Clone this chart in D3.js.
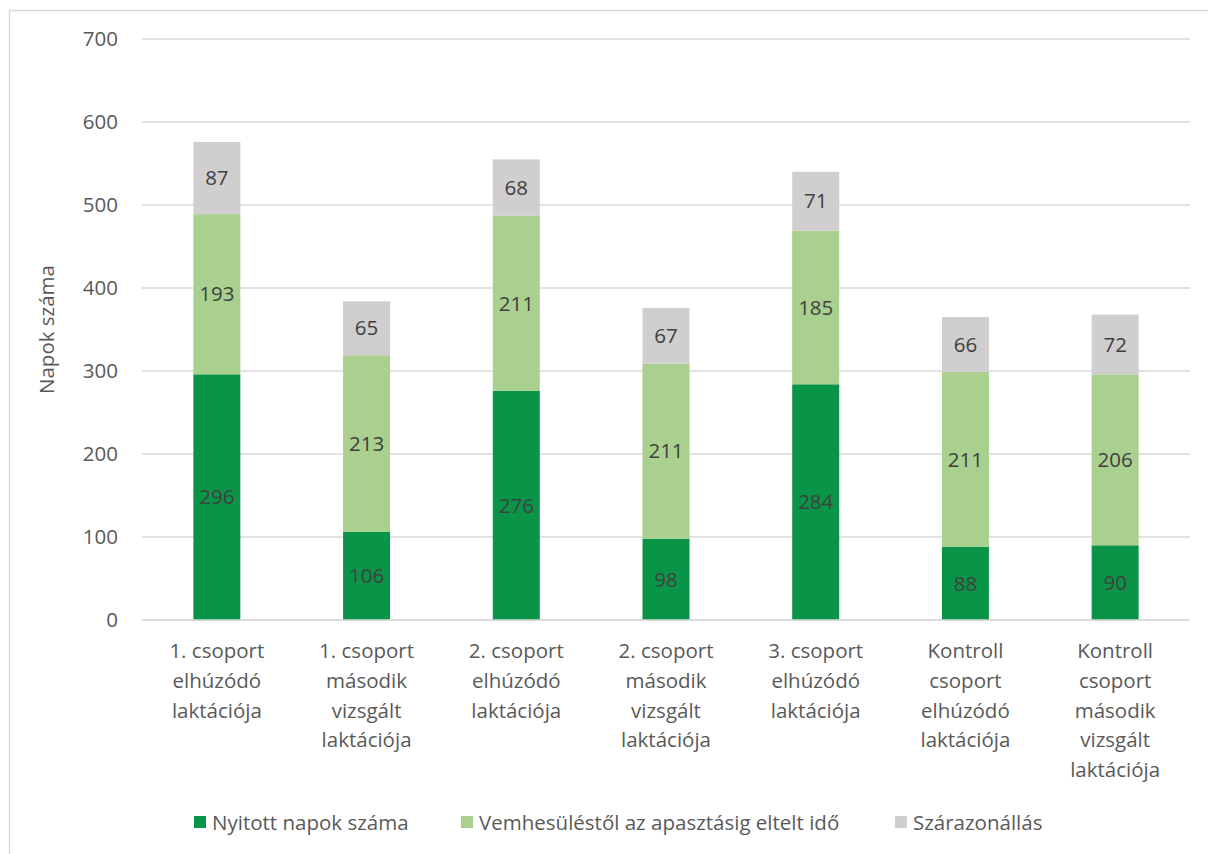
<!DOCTYPE html>
<html>
<head>
<meta charset="utf-8">
<script src="https://cdn.jsdelivr.net/npm/d3@7"></script>
<style>
  html, body { margin: 0; padding: 0; background: #fff; }
  svg { display: block; }
  text { font-family: "Open Sans", "Noto Sans", sans-serif; }
</style>
</head>
<body>
<svg id="chart" width="1208" height="854"></svg>
<script>
// Categories (line breaks as shown under the axis)
const categories = [
  ["1. csoport", "elhúzódó", "laktációja"],
  ["1. csoport", "második", "vizsgált", "laktációja"],
  ["2. csoport", "elhúzódó", "laktációja"],
  ["2. csoport", "második", "vizsgált", "laktációja"],
  ["3. csoport", "elhúzódó", "laktációja"],
  ["Kontroll", "csoport", "elhúzódó", "laktációja"],
  ["Kontroll", "csoport", "második", "vizsgált", "laktációja"]
];
const seriesNames = ["Nyitott napok száma", "Vemhesüléstől az apasztásig eltelt idő", "Szárazonállás"];
const nyitott = [296, 106, 276, 98, 284, 88, 90];
const vemhesules = [193, 213, 211, 211, 185, 211, 206];
const szarazon = [87, 65, 68, 67, 71, 66, 72];
const yTicks = [0, 100, 200, 300, 400, 500, 600, 700];
const colors = ["#0a9447", "#a9d08e", "#d0cece"];

const FS = "20.5px";
const svg = d3.select("#chart");

// outer chart frame
svg.append("rect")
  .attr("x", 9.5).attr("y", 10.5)
  .attr("width", 1220).attr("height", 870)
  .attr("fill", "none").attr("stroke", "#d9d9d9").attr("stroke-width", 1.5);

const plot = { left: 142, right: 1190, top: 39, bottom: 620 };

const x = d3.scaleBand()
  .domain(d3.range(categories.length))
  .range([plot.left, plot.right])
  .paddingInner(0.686).paddingOuter(0.343);

const y = d3.scaleLinear().domain([0, 700]).range([plot.bottom, plot.top]);

// gridlines
svg.append("g").selectAll("line").data(yTicks).join("line")
  .attr("x1", plot.left).attr("x2", plot.right)
  .attr("y1", d => y(d)).attr("y2", d => y(d))
  .attr("stroke", "#d9d9d9").attr("stroke-width", 1.3);

// y tick labels via axis
const yAxis = svg.append("g")
  .attr("transform", `translate(${plot.left - 24},0)`)
  .call(d3.axisLeft(y).tickValues(yTicks).tickSize(0).tickPadding(0));
yAxis.select(".domain").remove();
yAxis.selectAll("text")
  .attr("fill", "#595959").style("font-size", FS)
  .style("font-family", "'Open Sans', 'Noto Sans', sans-serif");

// stacked data
const rows = categories.map((c, i) => ({ i, a: nyitott[i], b: vemhesules[i], c: szarazon[i] }));
const stack = d3.stack().keys(["a", "b", "c"])(rows);

const layers = svg.append("g").selectAll("g").data(stack).join("g")
  .attr("fill", (d, k) => colors[k]);

layers.selectAll("rect").data(d => d).join("rect")
  .attr("x", d => x(d.data.i))
  .attr("width", x.bandwidth())
  .attr("y", d => y(d[1]))
  .attr("height", d => y(d[0]) - y(d[1]));

// value labels centred in each segment
layers.selectAll("text").data(d => d.map(s => ({ s, key: d.key }))).join("text")
  .attr("x", d => x(d.s.data.i) + x.bandwidth() / 2)
  .attr("y", d => y((d.s[0] + d.s[1]) / 2))
  .attr("dy", "0.35em")
  .attr("text-anchor", "middle")
  .attr("fill", "#404040")
  .style("font-size", FS)
  .text(d => d.s.data[d.key]);

// baseline
svg.append("line")
  .attr("x1", plot.left).attr("x2", plot.right)
  .attr("y1", y(0)).attr("y2", y(0))
  .attr("stroke", "#d9d9d9").attr("stroke-width", 1.5);

// category labels
const catG = svg.append("g");
categories.forEach((lines, i) => {
  const t = catG.append("text")
    .attr("x", x(i) + x.bandwidth() / 2)
    .attr("y", 658)
    .attr("text-anchor", "middle")
    .attr("fill", "#595959")
    .style("font-size", FS);
  lines.forEach((ln, j) => {
    t.append("tspan")
      .attr("x", x(i) + x.bandwidth() / 2)
      .attr("dy", j === 0 ? 0 : 29.8)
      .text(ln);
  });
});

// y axis title
svg.append("text")
  .attr("transform", `translate(54,${(plot.top + plot.bottom) / 2}) rotate(-90)`)
  .attr("text-anchor", "middle")
  .attr("fill", "#595959")
  .style("font-size", FS)
  .text("Napok száma");

// legend
const legendX = [194, 461, 895];
const legend = svg.append("g");
seriesNames.forEach((name, k) => {
  legend.append("rect")
    .attr("x", legendX[k]).attr("y", 816)
    .attr("width", 12).attr("height", 12)
    .attr("fill", colors[k]);
  legend.append("text")
    .attr("x", legendX[k] + 18).attr("y", 830)
    .attr("fill", "#595959")
    .style("font-size", FS)
    .text(name);
});
</script>
</body>
</html>
